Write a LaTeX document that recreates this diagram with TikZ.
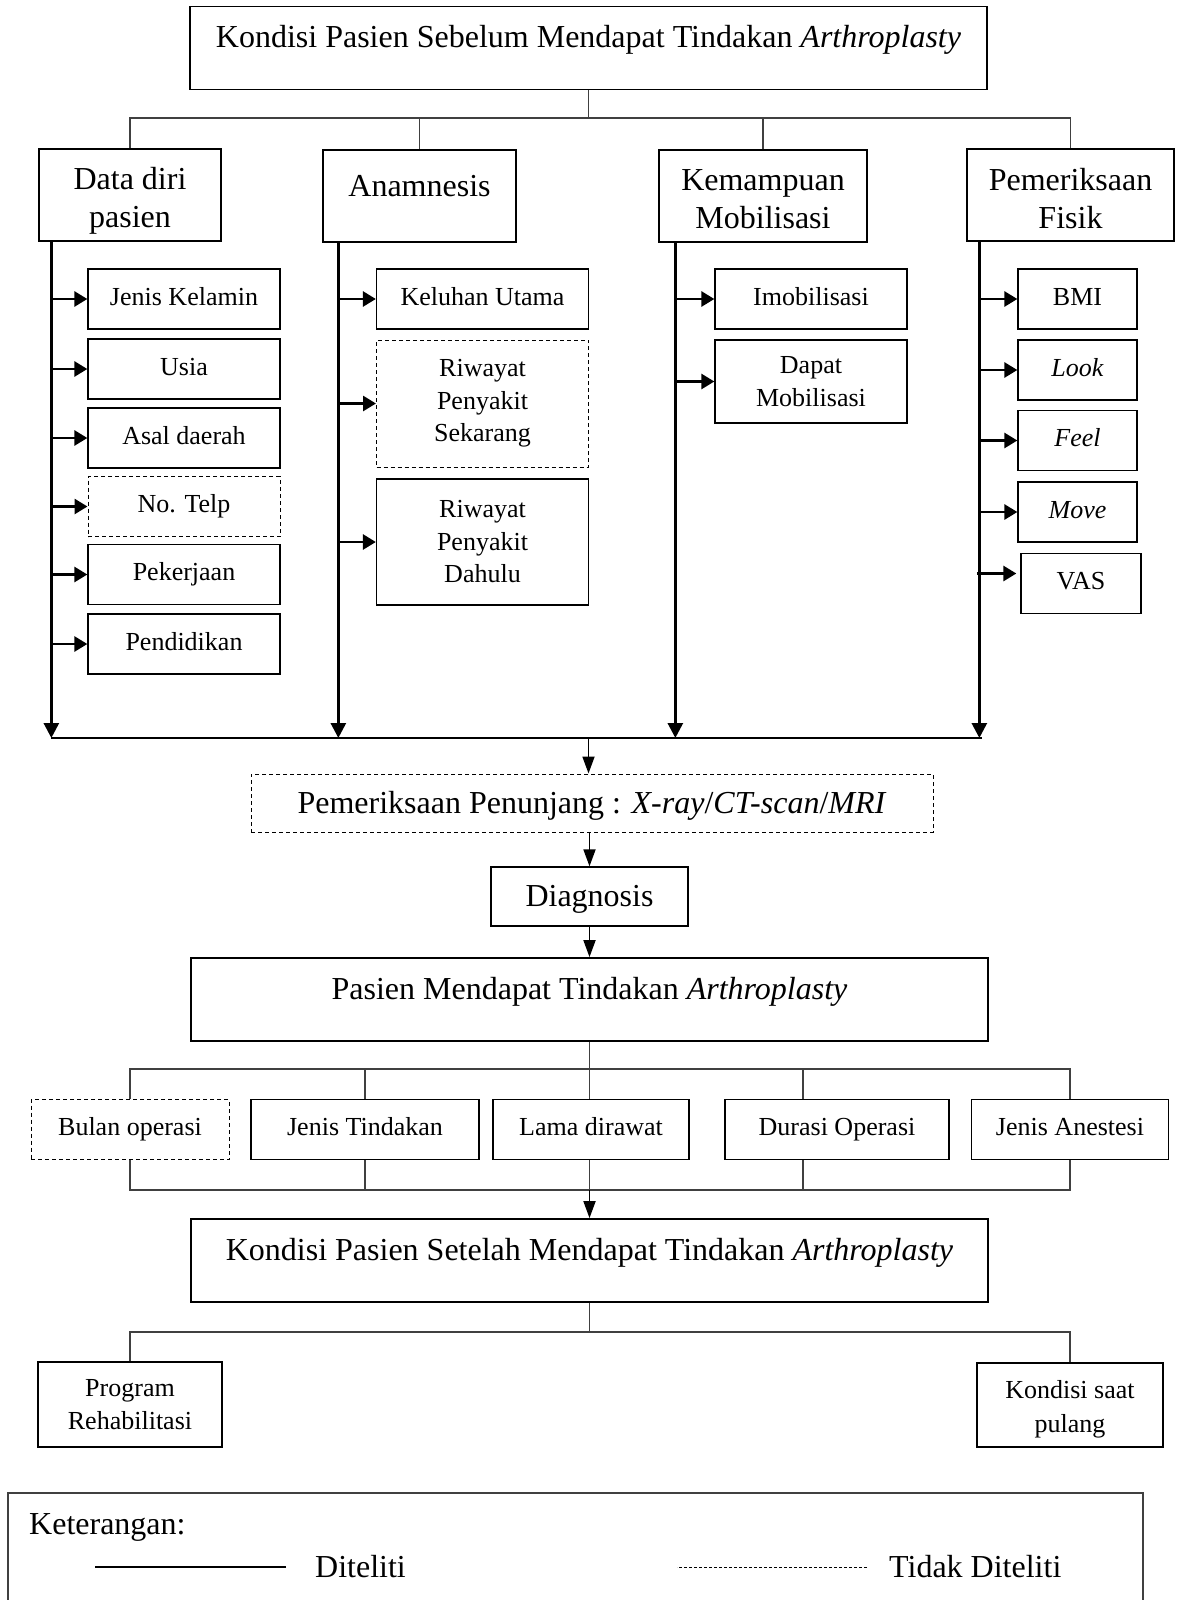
\documentclass[tikz,border=0pt]{standalone}
\usepackage{fontspec}
\setmainfont{Liberation Serif}
\usetikzlibrary{arrows.meta}
\newcommand{\padtop}[1]{\rule{0pt}{#1}}
\tikzstyle{box}=[draw, line width=1.3pt, inner sep=0pt, align=center]
\tikzstyle{head}=[box, font=\fontsize{32}{38}\selectfont]
\tikzstyle{upper}=[text height=22pt, text depth=22pt]
\tikzstyle{major}=[head, upper, line width=1.8pt, minimum width=797pt, minimum height=83pt]
\tikzstyle{sub}=[box, font=\fontsize{26}{32.5}\selectfont, minimum height=60pt, text height=18pt, text depth=6pt]
\tikzstyle{multi}=[text height=, text depth=]
\tikzstyle{untested}=[line width=1pt, dash pattern=on 4pt off 3pt]
\tikzstyle{tree}=[line width=1.3pt, black!75]
\tikzstyle{spine}=[line width=2.8pt, -{Triangle[length=15pt,width=15pt]}]
\tikzstyle{branch}=[line width=2.8pt, -{Triangle[length=13pt,width=15pt]}]
\tikzstyle{flow}=[line width=1.8pt, -{Triangle[length=17pt,width=12pt]}]
\tikzstyle{note}=[font=\fontsize{32}{38}\selectfont, anchor=west, inner sep=0pt]
\begin{document}
\begin{tikzpicture}[x=1pt,y=-1pt]
  \useasboundingbox (0,0) rectangle (1176,1600);
  \node [major] (sebelum) at (588.5,48) {Kondisi Pasien Sebelum Mendapat Tindakan \textit{Arthroplasty}};
  \node [head, minimum width=182pt, minimum height=92pt] (datadiri) at (130,195) {\padtop{34pt}Data diri\\pasien};
  \node [head, upper, minimum width=193pt, minimum height=92pt] (anamnesis) at (419.5,196) {Anamnesis};
  \node [head, minimum width=208pt, minimum height=92pt] (mobilisasi) at (763,196) {\padtop{28pt}Kemampuan\\Mobilisasi};
  \node [head, minimum width=207pt, minimum height=92pt] (fisik) at (1070.5,195) {\padtop{30pt}Pemeriksaan\\Fisik};
  \coordinate (bus1) at (588.5,118);
  \draw [tree] (sebelum) -- (bus1);
  \draw [tree] (datadiri) |- (bus1);
  \draw [tree] (fisik) |- (bus1);
  \draw [tree] (anamnesis) -- (anamnesis |- bus1);
  \draw [tree] (mobilisasi) -- (mobilisasi |- bus1);

  \node [sub, minimum width=192pt] (kelamin) at (184,299) {Jenis Kelamin};
  \node [sub, minimum width=192pt] (usia) at (184,369) {Usia};
  \node [sub, minimum width=192pt] (asal) at (184,438) {Asal daerah};
  \node [sub, untested, minimum width=192pt] (telp) at (184,506.5) {No. Telp};
  \node [sub, minimum width=192pt] (kerja) at (184,574.5) {Pekerjaan};
  \node [sub, minimum width=192pt] (didik) at (184,644) {Pendidikan};

  \node [sub, minimum width=212pt] (keluhan) at (482.5,299) {Keluhan Utama};
  \node [sub, multi, untested, minimum width=212pt, minimum height=127pt] (sekarang) at (482.5,403.5) {Riwayat\\Penyakit\\Sekarang};
  \node [sub, multi, minimum width=212pt, minimum height=126pt] (dahulu) at (482.5,542) {Riwayat\\Penyakit\\Dahulu};

  \node [sub, minimum width=192pt] (imob) at (811,299) {Imobilisasi};
  \node [sub, multi, minimum width=192pt, minimum height=83pt] (dapat) at (811,381.5) {Dapat\\Mobilisasi};

  \node [sub, minimum width=119pt] (bmi) at (1077.5,299) {BMI};
  \node [sub, minimum width=119pt] (look) at (1077.5,370) {\textit{Look}};
  \node [sub, minimum width=119pt] (feel) at (1077.5,440.5) {\textit{Feel}};
  \node [sub, minimum width=119pt] (move) at (1077.5,512) {\textit{Move}};
  \node [sub, minimum width=120pt] (vas) at (1081,583.5) {VAS};

  \coordinate (sp1) at ([xshift=13pt]datadiri.south west);
  \coordinate (sp2) at ([xshift=16pt]anamnesis.south west);
  \coordinate (sp3) at ([xshift=17pt]mobilisasi.south west);
  \coordinate (sp4) at ([xshift=13pt]fisik.south west);
  \coordinate (bus2) at (588.5,738);
  \foreach \s in {sp1,sp2,sp3,sp4}
    \draw [spine] (\s) -- (\s |- bus2);
  \draw [line width=1.5pt] (sp1 |- bus2) -- ([xshift=3pt]sp4 |- bus2);

  \foreach \n in {kelamin,usia,asal,telp,kerja,didik}
    \draw [branch] (sp1 |- \n.west) -- (\n.west);
  \foreach \n in {keluhan,sekarang,dahulu}
    \draw [branch] (sp2 |- \n.west) -- (\n.west);
  \foreach \n in {imob,dapat}
    \draw [branch] (sp3 |- \n.west) -- (\n.west);
  \foreach \n in {bmi,look,feel,move}
    \draw [branch] (sp4 |- \n.west) -- (\n.west);
  \coordinate (vasin) at ([yshift=10pt,xshift=-4pt]vas.west);
  \draw [branch] ([xshift=-2pt]vasin -| sp4) -- (vasin);

  \node [head, untested, minimum width=682pt, minimum height=58pt, text height=24pt, text depth=4pt] (penunjang) at (592,803) {Pemeriksaan Penunjang : \textit{X-ray}/\textit{CT-scan}/\textit{MRI}};
  \node [head, minimum width=197pt, minimum height=59pt, text height=24pt, text depth=4pt] (diagnosis) at (589.5,896.5) {Diagnosis};
  \node [major] (tindakan) at (589.5,999.5) {Pasien Mendapat Tindakan \textit{Arthroplasty}};
  \draw [flow] (bus2) -- (bus2 |- penunjang.north);
  \draw [flow] (diagnosis |- penunjang.south) -- (diagnosis);
  \draw [flow] (diagnosis) -- (tindakan);

  \node [sub, untested, minimum width=198pt] (bulan) at (130,1129.5) {Bulan operasi};
  \node [sub, minimum width=228pt] (jenis) at (365,1129.5) {Jenis Tindakan};
  \node [sub, minimum width=196pt] (lama) at (591,1129.5) {Lama dirawat};
  \node [sub, minimum width=224pt] (durasi) at (837,1129.5) {Durasi Operasi};
  \node [sub, minimum width=197pt] (anestesi) at (1070,1129.5) {Jenis Anestesi};
  \coordinate (bus3) at (589.5,1069);
  \coordinate (bus4) at (589.5,1190);
  \coordinate (durtop) at ([xshift=-34pt]durasi.north);
  \coordinate (durbot) at ([xshift=-34pt]durasi.south);
  \draw [tree] (tindakan) -- (tindakan |- lama.north);
  \draw [tree] (bulan) |- (bus3);
  \draw [tree] (anestesi) |- (bus3);
  \draw [tree] (jenis) -- (jenis |- bus3);
  \draw [tree] (durtop) -- (durtop |- bus3);
  \draw [tree] (bulan) |- (bus4);
  \draw [tree] (anestesi) |- (bus4);
  \draw [tree] (jenis) -- (jenis |- bus4);
  \draw [tree] (durbot) -- (durbot |- bus4);
  \draw [tree] (bus4 |- lama.south) -- (bus4);

  \node [major] (setelah) at (589.5,1260.5) {Kondisi Pasien Setelah Mendapat Tindakan \textit{Arthroplasty}};
  \draw [flow] (bus4) -- (setelah);
  \coordinate (bus5) at (589.5,1332);
  \node [sub, multi, minimum width=184pt, minimum height=85pt] (rehab) at (130,1404.5) {Program\\Rehabilitasi};
  \node [sub, multi, minimum width=186pt, minimum height=84pt, font=\fontsize{26}{34}\selectfont] (pulang) at (1070,1405) {\padtop{27pt}Kondisi saat\\pulang};
  \draw [tree] (setelah) -- (bus5);
  \draw [tree] (rehab) |- (bus5);
  \draw [tree] (pulang) |- (bus5);

  \draw [tree] (8,1600) |- (1143,1493) -- (1143,1600);
  \node [note] (ket) at (29,1527) {Keterangan:};
  \node [note] (diteliti) at (315,1567) {Diteliti};
  \node [note] (tidak) at (889,1567) {Tidak Diteliti};
  \draw [line width=1.5pt] ([xshift=-29pt]diteliti.west) -- ++(-191,0);
  \draw [line width=1pt, dash pattern=on 3pt off 2pt] ([xshift=-22pt]tidak.west) -- ++(-190,0);
\end{tikzpicture}
\end{document}
